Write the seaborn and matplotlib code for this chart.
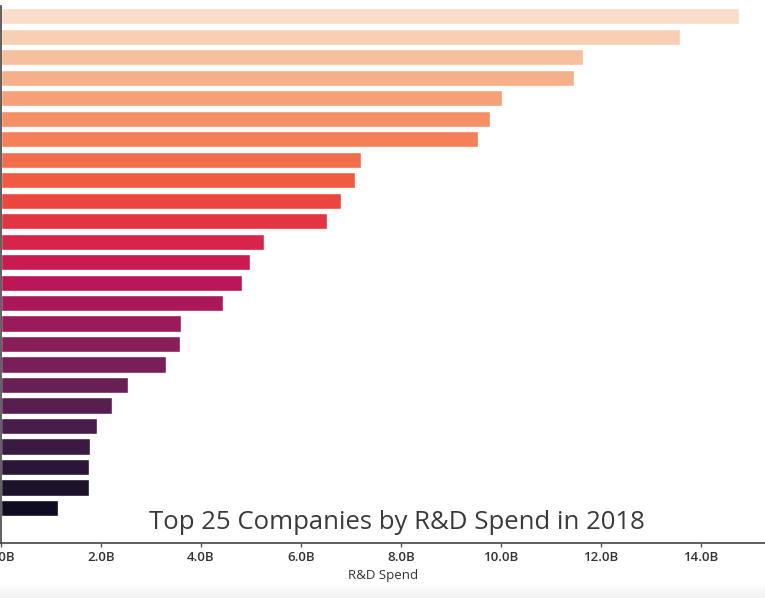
import numpy as np
import pandas as pd
import matplotlib
matplotlib.use("Agg")
import matplotlib.pyplot as plt
import seaborn as sns
from matplotlib.ticker import FuncFormatter

# Data (R&D spend in billions USD), ranked
companies = [f"Company {i}" for i in range(1, 26)]
rd_spend = [14.76, 13.58, 11.64, 11.46, 10.02, 9.78, 9.54, 7.20, 7.08, 6.80,
            6.52, 5.26, 4.98, 4.82, 4.44, 3.60, 3.58, 3.30, 2.54, 2.22,
            1.92, 1.78, 1.76, 1.76, 1.14]
xticks = [0, 2, 4, 6, 8, 10, 12, 14]
title = "Top 25 Companies by R&D Spend in 2018"
xlabel = "R&D Spend"

df = pd.DataFrame({"company": companies, "spend": rd_spend})

sns.set_style("white")
plt.rcParams["font.family"] = ["Open Sans", "DejaVu Sans"]

W, H = 765, 598
fig = plt.figure(figsize=(W / 100, H / 100), dpi=100)
ax = fig.add_axes([1 / W, (H - 543) / H, (W - 1) / W, 537 / H])

sns.barplot(data=df, x="spend", y="company", hue="company",
            palette="rocket_r", legend=False, orient="h", ax=ax,
            width=0.8, saturation=1)

ax.set_xlim(0, 15.28)
ax.set_ylim(25.7, -0.5)
ax.set_xticks(xticks)
ax.xaxis.set_major_formatter(FuncFormatter(lambda v, p: f"{v:.1f}B"))
ax.set_yticks([])
ax.set_ylabel("")
ax.set_xlabel(xlabel, fontsize=9.5, color="#333333", labelpad=3)
ax.tick_params(axis="x", direction="out", length=3, width=1, color="#555555",
               labelsize=9.5, labelcolor="#333333", pad=3, bottom=True)
for lab in ax.get_xticklabels():
    lab.set_fontweight("semibold")
for s in ["top", "right"]:
    ax.spines[s].set_visible(False)
for s in ["left", "bottom"]:
    ax.spines[s].set_color("#444444")
    ax.spines[s].set_linewidth(1.2)

ax.text(396.5 / W, (H - 535) / H, title, transform=fig.transFigure,
        fontsize=18.5, color="#3a3a3a", ha="center", va="bottom",
        fontweight="normal")

# subtle screenshot shading along the bottom edge
gax = fig.add_axes([0, 0, 1, 16 / H])
grad = np.linspace(1.0, 0.94, 50).reshape(-1, 1)
gax.imshow(grad, aspect="auto", cmap="gray", vmin=0, vmax=1,
           extent=[0, 1, 0, 1], origin="upper")
gax.axis("off")

fig.savefig("out.png", dpi=100)
